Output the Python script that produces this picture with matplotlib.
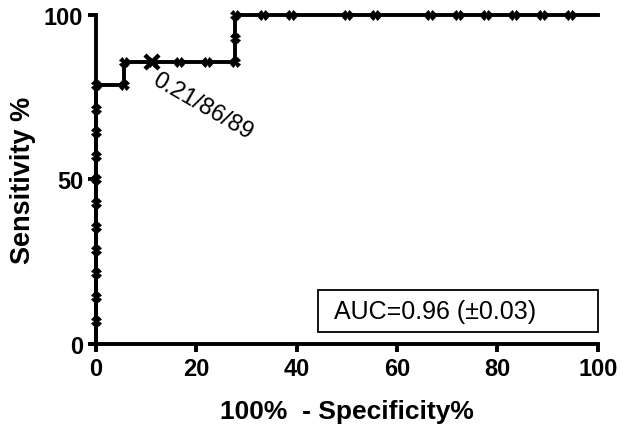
import matplotlib
matplotlib.use("Agg")
import matplotlib.pyplot as plt
from matplotlib.patches import Rectangle

plt.rcParams["font.family"] = ["Liberation Sans", "DejaVu Sans"]

# ROC curve points: 100% - specificity (x) and sensitivity (y)
fpr = [0, 0, 0, 0, 0, 0, 0, 0, 0, 0, 0, 0,
       5.56, 5.56, 11.11, 16.67, 22.22, 27.78, 27.78, 27.78,
       33.33, 38.89, 50.0, 55.56, 66.67, 72.22, 77.78, 83.33, 88.89, 94.44, 100]
tpr = [0, 7.14, 14.29, 21.43, 28.57, 35.71, 42.86, 50.0, 57.14, 64.29, 71.43, 78.57,
       78.57, 85.71, 85.71, 85.71, 85.71, 85.71, 92.86, 100,
       100, 100, 100, 100, 100, 100, 100, 100, 100, 100, 100]
# marker positions (the tabulated points)
mark_x = fpr[1:-1]
mark_y = tpr[1:-1]

cutoff_x, cutoff_y = 11.11, 85.71
cutoff_label = "0.21/86/89"
auc_label = "AUC=0.96 (\u00b10.03)"

fig = plt.figure(figsize=(6.26, 4.31), dpi=100)
ax = fig.add_axes([0.153, 0.1995, 0.802, 0.7635])

ax.plot(fpr, tpr, color="black", lw=2.8, zorder=2)
ax.plot(mark_x, mark_y, ls="none", marker="X", ms=7, color="black",
        mec="black", mew=0.5, zorder=3)
ax.plot([cutoff_x], [cutoff_y], ls="none", marker="x", ms=10, mew=3.2,
        color="black", zorder=4)

ax.text(cutoff_x + 1.6, cutoff_y - 1.8, cutoff_label, rotation=-30,
        rotation_mode="anchor", ha="left", va="top", fontsize=17)

# AUC box
ax.add_patch(Rectangle((44.2, 3.6), 55.8, 12.8, fill=False, ec="black",
                       lw=1.3, clip_on=False, zorder=5))
ax.text(47.4, 10.0, auc_label, ha="left", va="center", fontsize=18)

ax.set_xlim(0, 100)
ax.set_ylim(0, 100)
ax.set_xticks([0, 20, 40, 60, 80, 100])
ax.set_yticks([0, 50, 100])
ax.spines["top"].set_visible(False)
ax.spines["right"].set_visible(False)
for s in ("left", "bottom"):
    ax.spines[s].set_linewidth(2.8)
ax.spines["bottom"].set_bounds(-1, 100)
ax.tick_params(width=2.8, length=6, labelsize=17, pad=3)
for lab in ax.get_xticklabels() + ax.get_yticklabels():
    lab.set_fontweight("bold")

ax.set_xlabel("100%  - Specificity%", fontsize=19, fontweight="bold", labelpad=14)
ax.set_ylabel("Sensitivity %", fontsize=19.5, fontweight="bold", labelpad=6)

for line in ax.lines:
    line.set_clip_on(False)

fig.savefig("out.png", dpi=100)
